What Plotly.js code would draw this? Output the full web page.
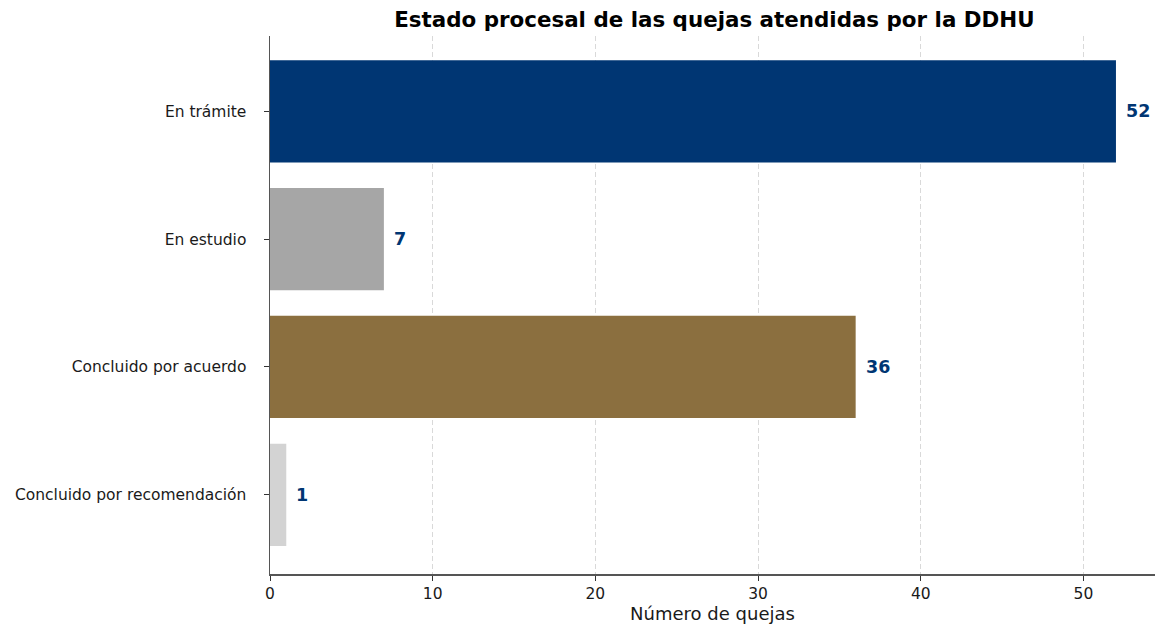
<!DOCTYPE html>
<html>
<head>
<meta charset="utf-8">
<script src="https://cdn.plot.ly/plotly-3.0.1.min.js"></script>
<style>html,body{margin:0;padding:0;background:#fff;}#chart{width:1156px;height:625px;}</style>
</head>
<body>
<div id="chart"></div>
<script>
const categories = ["En trámite", "En estudio", "Concluido por acuerdo", "Concluido por recomendación"];
const values = [52, 7, 36, 1];
const barColors = ["#003673", "#a6a6a6", "#8b6f3f", "#d3d3d3"];
const xTicks = [0, 10, 20, 30, 40, 50];

const font = "DejaVu Sans, sans-serif";
const trace = {
  type: "bar",
  orientation: "h",
  y: categories,
  x: values,
  marker: {color: barColors, line: {width: 0}},
  width: 0.8,
  hoverinfo: "none"
};

const annotations = values.map((v, i) => ({
  x: v, y: categories[i], xref: "x", yref: "y",
  text: "<b>" + v + "</b>", showarrow: false,
  xanchor: "left", yanchor: "middle", xshift: 8,
  font: {family: font, size: 17.5, color: "#003673"}
}));

const layout = {
  width: 1156, height: 625,
  margin: {l: 270, r: 1, t: 36, b: 51},
  paper_bgcolor: "#fff", plot_bgcolor: "#fff",
  font: {family: font, size: 15.5, color: "#1a1a1a"},
  title: {text: "<b>Estado procesal de las quejas atendidas por la DDHU</b>", font: {family: font, size: 21.4, color: "#000"}, x: 0.618, xanchor: "center", y: 0.968, yanchor: "middle"},
  showlegend: false,
  bargap: 0.2,
  xaxis: {
    range: [0, 54.4],
    tickvals: xTicks,
    ticktext: xTicks.map(String),
    ticks: "outside", ticklen: 5, tickcolor: "#333", tickwidth: 1,
    showgrid: true, gridcolor: "rgba(170,170,170,0.45)", griddash: "5px,3px", gridwidth: 1,
    showline: true, linecolor: "#555", linewidth: 1.5,
    zeroline: false,
    layer: "above traces",
    tickfont: {family: font, size: 15.5, color: "#1a1a1a"},
    title: {text: "Número de quejas", font: {family: font, size: 18, color: "#1a1a1a"}, standoff: 5}
  },
  yaxis: {
    autorange: false,
    range: [3.62, -0.59],
    type: "category",
    ticks: "outside", ticklen: 5, tickcolor: "#333",
    ticklabelstandoff: 14,
    showgrid: false,
    showline: true, linecolor: "#555", linewidth: 1.5,
    zeroline: false,
    tickfont: {family: font, size: 15.5, color: "#1a1a1a"}
  },
  annotations: annotations
};

Plotly.newPlot("chart", [trace], layout, {displayModeBar: false, staticPlot: true});
</script>
</body>
</html>
